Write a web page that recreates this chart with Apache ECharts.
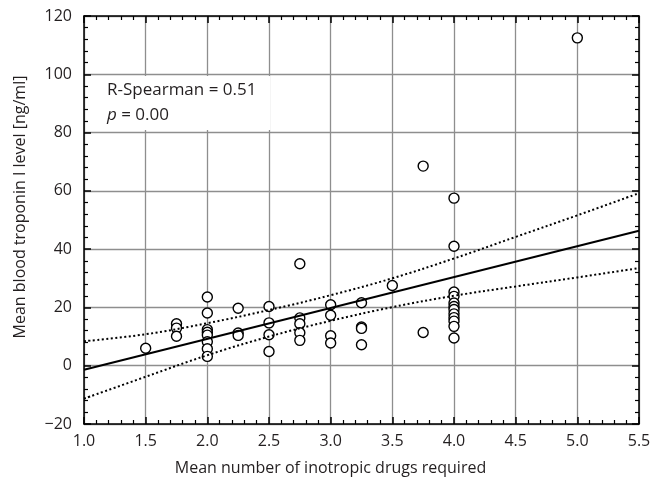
<!DOCTYPE html>
<html>
<head>
<meta charset="utf-8">
<script src="https://cdn.jsdelivr.net/npm/echarts@6/dist/echarts.min.js"></script>
<style>
  html, body { margin: 0; padding: 0; background: #fff; }
  #main { width: 660px; height: 486px; }
</style>
</head>
<body>
<div id="main"></div>
<script>
// points: x = mean number of drugs, y = troponin
var drugsX = [
    1.5,
    1.75, 1.75, 1.75,
    2.0, 2.0, 2.0, 2.0, 2.0, 2.0, 2.0, 2.0,
    2.25, 2.25, 2.25,
    2.5, 2.5, 2.5, 2.5,
    2.75, 2.75, 2.75, 2.75, 2.75,
    3.0, 3.0, 3.0, 3.0,
    3.25, 3.25, 3.25, 3.25,
    3.5,
    3.75, 3.75,
    4.0, 4.0, 4.0, 4.0, 4.0, 4.0, 4.0, 4.0, 4.0, 4.0, 4.0, 4.0,
    5.0
];
var troponinY = [
    6.0,
    14.4, 12.9, 10.1,
    23.6, 18.1, 12.4, 11.5, 10.5, 8.2, 5.8, 3.2,
    19.7, 11.2, 10.4,
    20.3, 14.7, 10.6, 4.9,
    35.0, 16.4, 14.4, 11.3, 8.7,
    20.9, 17.3, 10.3, 7.8,
    21.6, 13.3, 12.8, 7.2,
    27.5,
    68.5, 11.4,
    57.5, 41.0, 25.3, 23.8, 21.5, 20.3, 19.3, 17.8, 16.5, 15.3, 13.5, 9.5,
    112.5
];

// regression line and the dotted confidence band
var fitX = [1.0, 5.5];
var fitY = [-1.4, 46.3];
var bandX = [1.0, 1.5, 2.0, 2.5, 3.0, 3.5, 4.0, 4.5, 5.0, 5.5];
var bandUpper = [8.4, 10.8, 14.6, 19.1, 24.2, 30.0, 36.8, 44.2, 51.6, 59.2];
var bandLower = [-11.3, -3.8, 3.6, 10.0, 15.4, 20.1, 24.0, 27.2, 30.3, 33.5];

var xTitle = 'Mean number of inotropic drugs required';
var yTitle = 'Mean blood troponin I level [ng/ml]';

function pairs(xs, ys){
    var out = [];
    for (var i = 0; i < xs.length; i++) {
        out.push([xs[i], ys[i]]);
    }
    return out;
}

var fontName = 'Open Sans';
var textColor = '#231f20';

var tickStyle = {
    show: true,
    inside: true,
    length: 7,
    lineStyle: { color: '#000', width: 1.5 }
};
var minorStyle = {
    show: true,
    splitNumber: 5,
    length: 4,
    lineStyle: { color: '#000', width: 1.2 }
};

var chart = echarts.init(document.getElementById('main'));

var option = {
    animation: false,
    textStyle: { fontFamily: fontName },
    title: {
        text: 'R-Spearman = 0.51\n{i|p} = 0.00',
        left: 92,
        top: 76,
        padding: [2, 14, 2, 15],
        backgroundColor: '#fff',
        textStyle: {
            fontFamily: fontName,
            fontSize: 17,
            fontWeight: 'normal',
            color: textColor,
            lineHeight: 25,
            rich: {
                i: {
                    fontFamily: fontName,
                    fontSize: 17,
                    fontStyle: 'italic',
                    color: textColor,
                    lineHeight: 25
                }
            }
        }
    },
    grid: {
        left: 84,
        right: 21,
        top: 16,
        bottom: 62
    },
    xAxis: [
        {
            type: 'value',
            min: 1.0,
            max: 5.5,
            interval: 0.5,
            name: xTitle,
            nameLocation: 'middle',
            nameGap: 36,
            nameTextStyle: {
                fontSize: 16,
                color: textColor,
                fontFamily: fontName,
                // 标题在参考图里偏左
                padding: [0, 62, 0, 0]
            },
            axisLine: { show: true, onZero: false, lineStyle: { color: '#000', width: 1.5 } },
            axisTick: tickStyle,
            minorTick: minorStyle,
            axisLabel: {
                margin: 9,
                fontSize: 16,
                color: textColor,
                formatter: function(v){ return v.toFixed(1); }
            },
            splitLine: { show: true, lineStyle: { color: '#8e8e8e', width: 1.3 } }
        },
        {
            type: 'value',
            position: 'top',
            min: 1.0,
            max: 5.5,
            interval: 0.5,
            axisLine: { show: true, onZero: false, lineStyle: { color: '#000', width: 1.5 } },
            axisTick: tickStyle,
            minorTick: minorStyle,
            axisLabel: { show: false },
            splitLine: { show: false }
        }
    ],
    yAxis: [
        {
            type: 'value',
            min: -20,
            max: 120,
            interval: 20,
            name: yTitle,
            nameLocation: 'middle',
            nameGap: 56,
            nameTextStyle: {
                fontSize: 16,
                color: textColor,
                fontFamily: fontName,
                // 往上挪一点
                padding: [0, 0, 0, 26]
            },
            axisLine: { show: true, onZero: false, lineStyle: { color: '#000', width: 1.5 } },
            axisTick: tickStyle,
            minorTick: minorStyle,
            axisLabel: {
                margin: 12,
                fontSize: 16,
                color: textColor,
                formatter: function(v){
                    return v < 0 ? '\u2212' + Math.abs(v) : String(v);
                }
            },
            splitLine: { show: true, lineStyle: { color: '#8e8e8e', width: 1.3 } }
        },
        {
            type: 'value',
            position: 'right',
            min: -20,
            max: 120,
            interval: 20,
            axisLine: { show: true, onZero: false, lineStyle: { color: '#000', width: 1.5 } },
            axisTick: tickStyle,
            minorTick: minorStyle,
            axisLabel: { show: false },
            splitLine: { show: false }
        }
    ],
    series: [
        {
            type: 'scatter',
            data: pairs(drugsX, troponinY),
            symbol: 'circle',
            symbolSize: 10,
            itemStyle: {
                color: '#fff',
                borderColor: '#000',
                borderWidth: 1.4,
                opacity: 1
            }
        },
        {
            type: 'line',
            data: pairs(fitX, fitY),
            showSymbol: false,
            lineStyle: { color: '#000', width: 2 }
        },
        {
            type: 'line',
            data: pairs(bandX, bandUpper),
            showSymbol: false,
            smooth: 0.4,
            lineStyle: { color: '#000', width: 2, type: [2, 2.5] }
        },
        {
            type: 'line',
            data: pairs(bandX, bandLower),
            showSymbol: false,
            smooth: 0.4,
            lineStyle: { color: '#000', width: 2, type: [2, 2.5] }
        }
    ]
};

chart.setOption(option, true);

window.onresize = function(){
    chart.resize();
};
</script>
</body>
</html>
